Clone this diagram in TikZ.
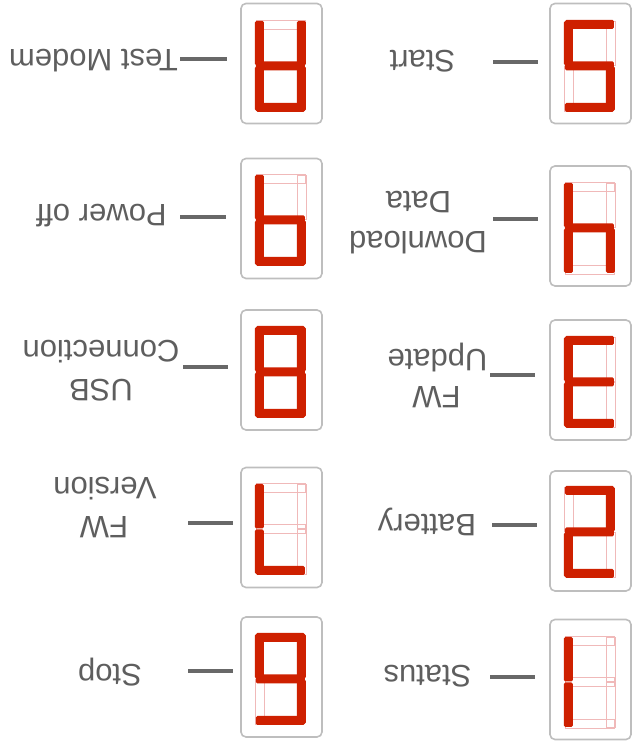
\documentclass[tikz,border=0pt]{standalone}
\usepackage{fontspec}
\setmainfont{Liberation Sans}

\definecolor{ledred}{RGB}{206,32,0}
\definecolor{ledghost}{RGB}{240,185,185}
\definecolor{boxgray}{RGB}{190,190,190}
\definecolor{leadgray}{RGB}{104,104,104}
\definecolor{txtgray}{RGB}{94,94,94}

%=====Szegmensek (a..g)=======
\def\segpa{(1,0) rectangle (50,9)}
\def\segpb{(42,1) rectangle (51,45.5)}
\def\segpc{(42,46.5) rectangle (51,91)}
\def\segpd{(1,83) rectangle (50,92)}
\def\segpe{(0,46.5) rectangle (9,91)}
\def\segpf{(0,1) rectangle (9,45.5)}
\def\segpg{(1,41.5) rectangle (50,50.5)}

\newcommand{\ledon}[2]{\begin{scope}[shift={#1}]\foreach \s in {#2}{\fill[segon] \csname segp\s\endcsname;}\end{scope}}
\newcommand{\ledoff}[2]{\begin{scope}[shift={#1}]\foreach \s in {#2}{\draw[segoff] \csname segp\s\endcsname;}\end{scope}}

\begin{document}
\begin{tikzpicture}[x={(-1pt,0pt)},y={(0pt,1pt)},
  ledbox/.style={draw=boxgray,line width=1.6pt,rounded corners=5pt,fill=white,minimum width=81pt,minimum height=120pt,inner sep=0pt},
  segon/.style={fill=ledred,rounded corners=1.5pt},
  segoff/.style={draw=ledghost,line width=0.7pt},
  lead/.style={draw=leadgray,line width=4pt},
  lbl/.style={text=txtgray,font=\fontsize{31}{37}\selectfont,rotate=180,inner sep=0pt,text height=22pt,text depth=0pt}]

\useasboundingbox (0,0) rectangle (632,742);

%=====Dobozok=======
\node [ledbox] (box1) at (41.5,62.5) {};
\node [ledbox] (box2) at (41.5,211) {};
\node [ledbox] (box3) at (41.5,362) {};
\node [ledbox] (box4) at (41.5,516) {};
\node [ledbox] (box5) at (41.5,678.5) {};

\node [ledbox] (box6) at (350.5,65) {};
\node [ledbox] (box7) at (350.5,214.5) {};
\node [ledbox] (box8) at (350.5,372) {};
\node [ledbox] (box9) at (350.5,523.5) {};
\node [ledbox] (boxA) at (350.5,678.5) {};

%=====Kijelzok=======
\ledoff{(17,14)}{a,d,e,f,g}   \ledon{(17,14)}{b,c}
\ledoff{(17,164)}{c,f}        \ledon{(17,164)}{a,b,g,e,d}
\ledoff{(17,314)}{e,f}        \ledon{(17,314)}{a,b,c,d,g}
\ledoff{(17,468)}{a,d,e}      \ledon{(17,468)}{b,c,f,g}
\ledoff{(17,630)}{b,e}        \ledon{(17,630)}{a,f,g,c,d}

\ledoff{(326,17)}{b}          \ledon{(326,17)}{a,c,d,e,f,g}
\ledoff{(326,167)}{d,e,f,g}   \ledon{(326,167)}{a,b,c}
                              \ledon{(326,324)}{a,b,c,d,e,f,g}
\ledoff{(326,476)}{d,e}       \ledon{(326,476)}{a,b,c,f,g}
\ledoff{(326,630)}{d}         \ledon{(326,630)}{a,b,c,e,f,g}

%=====Vonalak=======
\coordinate (l1) at (97,65);   \coordinate (r1) at (142,65);
\coordinate (l2) at (95,217);  \coordinate (r2) at (140,217);
\coordinate (l3) at (97,367);  \coordinate (r3) at (142,367);
\coordinate (l4) at (94,523);  \coordinate (r4) at (139,523);
\coordinate (l5) at (94,680);  \coordinate (r5) at (139,680);
\coordinate (l6) at (399,71);  \coordinate (r6) at (444,71);
\coordinate (l7) at (399,219); \coordinate (r7) at (444,219);
\coordinate (l8) at (404,375); \coordinate (r8) at (449,375);
\coordinate (l9) at (406,525); \coordinate (r9) at (452,525);
\coordinate (lA) at (405,683); \coordinate (rA) at (452,683);

\draw [lead] (l1) -- (r1);
\draw [lead] (l2) -- (r2);
\draw [lead] (l3) -- (r3);
\draw [lead] (l4) -- (r4);
\draw [lead] (l5) -- (r5);
\draw [lead] (l6) -- (r6);
\draw [lead] (l7) -- (r7);
\draw [lead] (l8) -- (r8);
\draw [lead] (l9) -- (r9);
\draw [lead] (lA) -- (rA);

%=====Feliratok=======
\node [lbl] (status) at (204.5,65) {Status};
\node [lbl] (battery) at (205,216) {Battery};
\node [lbl] (fwupd) at (195.5,344.5) {FW};
\node [lbl] (update) at (194.5,381) {Update};
\node [lbl] (download) at (214,499.5) {Download};
\node [lbl] (data) at (213.5,539.5) {Data};
\node [lbl] (start) at (209.5,680) {Start};

\node [lbl] (stop) at (522,66.5) {Stop};
\node [lbl] (fwver) at (528,214.5) {FW};
\node [lbl] (version) at (527,253) {Version};
\node [lbl] (usb) at (531,351) {USB};
\node [lbl] (connection) at (531,390) {Connection};
\node [lbl] (poweroff) at (530.5,526) {Power off};
\node [lbl] (testmodem) at (538.5,681) {Test Modem};

\end{tikzpicture}
\end{document}
